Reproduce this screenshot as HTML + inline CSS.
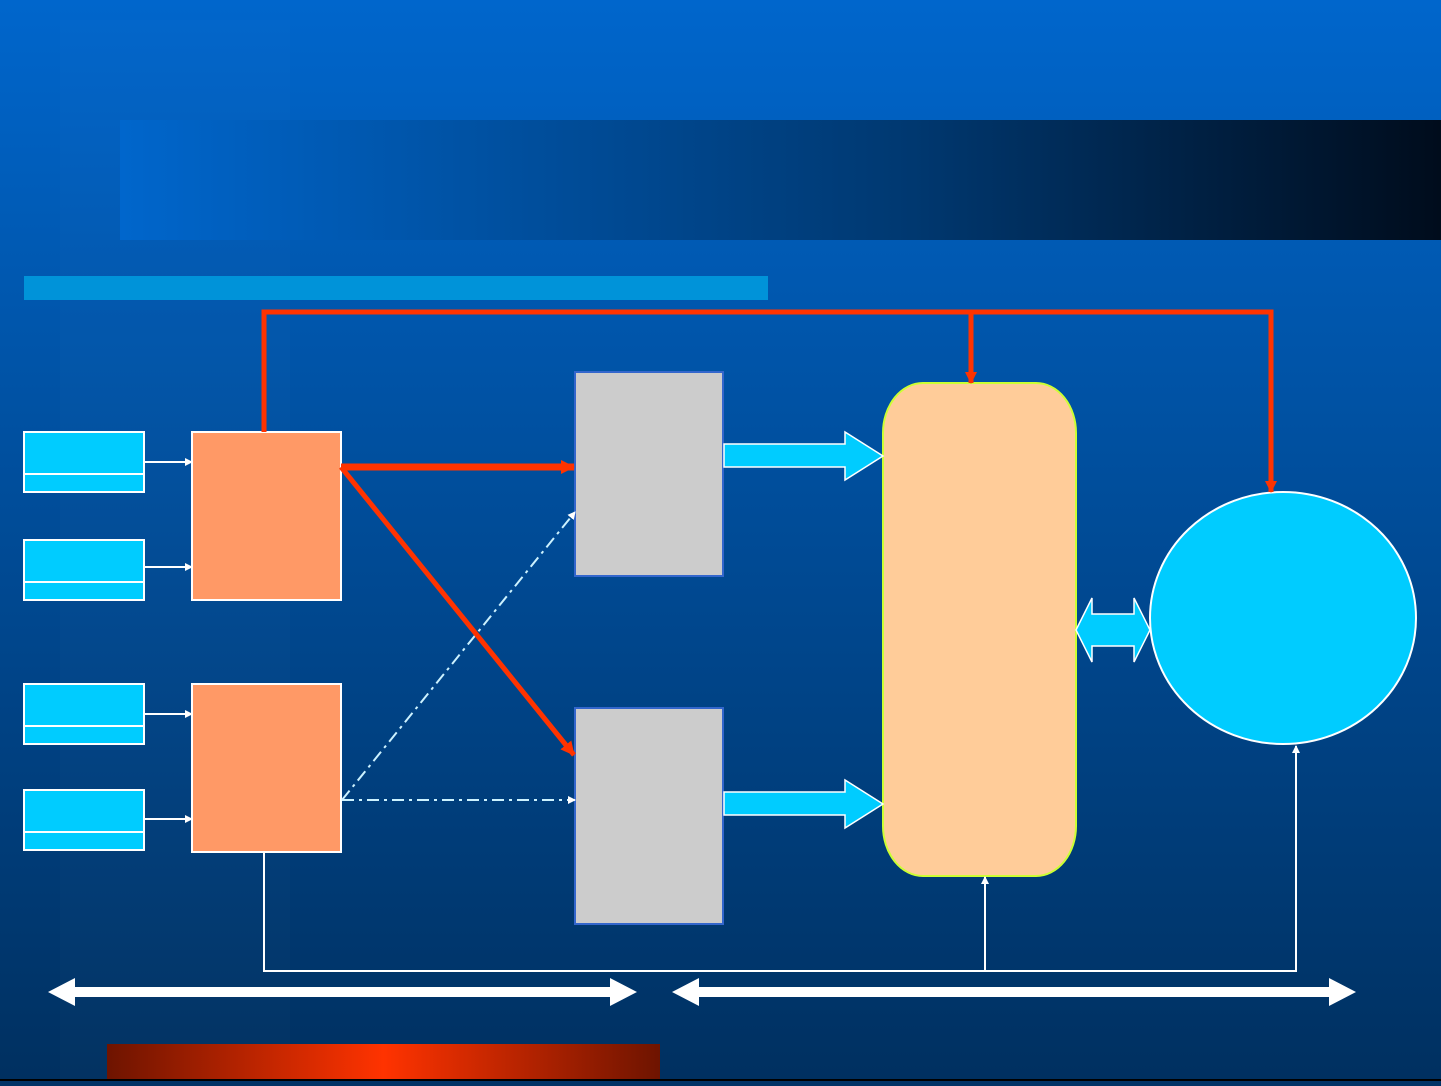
<!DOCTYPE html>
<html><head><style>html,body{margin:0;padding:0;background:#003366}</style></head><body>
<svg width="1441" height="1081" viewBox="0 0 1441 1081" xmlns="http://www.w3.org/2000/svg">
<defs>
<linearGradient id="bg" x1="0" y1="0" x2="0" y2="1"><stop offset="0" stop-color="#0066cc"/><stop offset="1" stop-color="#003060"/></linearGradient>
<linearGradient id="title" x1="0" y1="0" x2="1" y2="0"><stop offset="0" stop-color="#0066cc"/><stop offset="0.6" stop-color="#003870"/><stop offset="1" stop-color="#000c1c"/></linearGradient>
<linearGradient id="red" x1="0" y1="0" x2="1" y2="0"><stop offset="0" stop-color="#6e1400"/><stop offset="0.5" stop-color="#ff3300"/><stop offset="1" stop-color="#6e1400"/></linearGradient>
<marker id="wa" markerWidth="8" markerHeight="8" refX="7" refY="4" orient="auto" markerUnits="userSpaceOnUse"><path d="M0,0 L8,4 L0,8z" fill="#fff"/></marker>
<marker id="ra" markerWidth="14" markerHeight="14" refX="13" refY="7" orient="auto" markerUnits="userSpaceOnUse"><path d="M0,0 L14,7 L0,14z" fill="#ff3300"/></marker>
<marker id="ra2" markerWidth="12" markerHeight="12" refX="11" refY="6" orient="auto" markerUnits="userSpaceOnUse"><path d="M0,0 L12,6 L0,12z" fill="#ff3300"/></marker>
</defs>
<rect width="1441" height="1081" fill="url(#bg)"/>
<rect x="60" y="20" width="230" height="1061" fill="#ffffff" opacity="0.012"/>
<rect x="120" y="120" width="1321" height="120" fill="url(#title)"/>
<rect x="24" y="276" width="744" height="24" fill="#0093d9"/>
<rect x="107" y="1044" width="553" height="36" fill="url(#red)"/>
<rect x="0" y="1079" width="1441" height="2" fill="#000"/>

<g fill="#00ccff" stroke="#fff" stroke-width="2">
<rect x="24" y="432" width="120" height="60"/><line x1="24" y1="474" x2="144" y2="474"/>
<rect x="24" y="540" width="120" height="60"/><line x1="24" y1="582" x2="144" y2="582"/>
<rect x="24" y="684" width="120" height="60"/><line x1="24" y1="726" x2="144" y2="726"/>
<rect x="24" y="790" width="120" height="60"/><line x1="24" y1="832" x2="144" y2="832"/>
</g>
<g stroke="#fff" stroke-width="2" marker-end="url(#wa)">
<line x1="144" y1="462" x2="192" y2="462"/><line x1="144" y1="567" x2="192" y2="567"/>
<line x1="144" y1="714" x2="192" y2="714"/><line x1="144" y1="819" x2="192" y2="819"/>
</g>
<g fill="#ff9966" stroke="#fff" stroke-width="2">
<rect x="192" y="432" width="149" height="168"/><rect x="192" y="684" width="149" height="168"/>
</g>
<g fill="#cccccc" stroke="#3366cc" stroke-width="2">
<rect x="575" y="372" width="148" height="204"/><rect x="575" y="708" width="148" height="216"/>
</g>
<rect x="883" y="383" width="193" height="493" rx="40" ry="50" fill="#ffcc99" stroke="#ccff33" stroke-width="2"/>
<ellipse cx="1283" cy="618" rx="133" ry="126" fill="#00ccff" stroke="#fff" stroke-width="2"/>

<g fill="#00ccff" stroke="#fff" stroke-width="1.5">
<path d="M724,444 H845 V432 L883,456 L845,480 V467 H724z"/>
<path d="M724,792 H845 V780 L883,804 L845,828 V815 H724z"/>
<path d="M1076,630 L1092,598 V614 H1134 V598 L1150,630 L1134,662 V646 H1092 V662z"/>
</g>

<g stroke="#ccf2ff" stroke-width="2" stroke-dasharray="12,5,3,5" fill="none" marker-end="url(#wa)">
<line x1="342" y1="800" x2="575" y2="512"/><line x1="342" y1="800" x2="575" y2="800"/>
</g>

<g stroke="#ff3300" stroke-width="5" fill="none">
<polyline points="264,432 264,312 1271,312 1271,492" marker-end="url(#ra2)"/>
<line x1="971" y1="312" x2="971" y2="383" marker-end="url(#ra2)"/>
<line x1="341" y1="467" x2="574" y2="467" stroke-width="7" marker-end="url(#ra)"/>
<line x1="341" y1="467" x2="574" y2="755" marker-end="url(#ra)"/>
</g>

<g stroke="#fff" stroke-width="2" fill="none">
<polyline points="264,852 264,971 1296,971 1296,746" marker-end="url(#wa)"/>
<line x1="985" y1="971" x2="985" y2="877" marker-end="url(#wa)"/>
</g>
<g fill="#fff">
<path d="M48,992 L75,978 V987 H610 V978 L637,992 L610,1006 V997 H75 V1006z"/>
<path d="M672,992 L699,978 V987 H1329 V978 L1356,992 L1329,1006 V997 H699 V1006z"/>
</g>
</svg>
</body></html>
